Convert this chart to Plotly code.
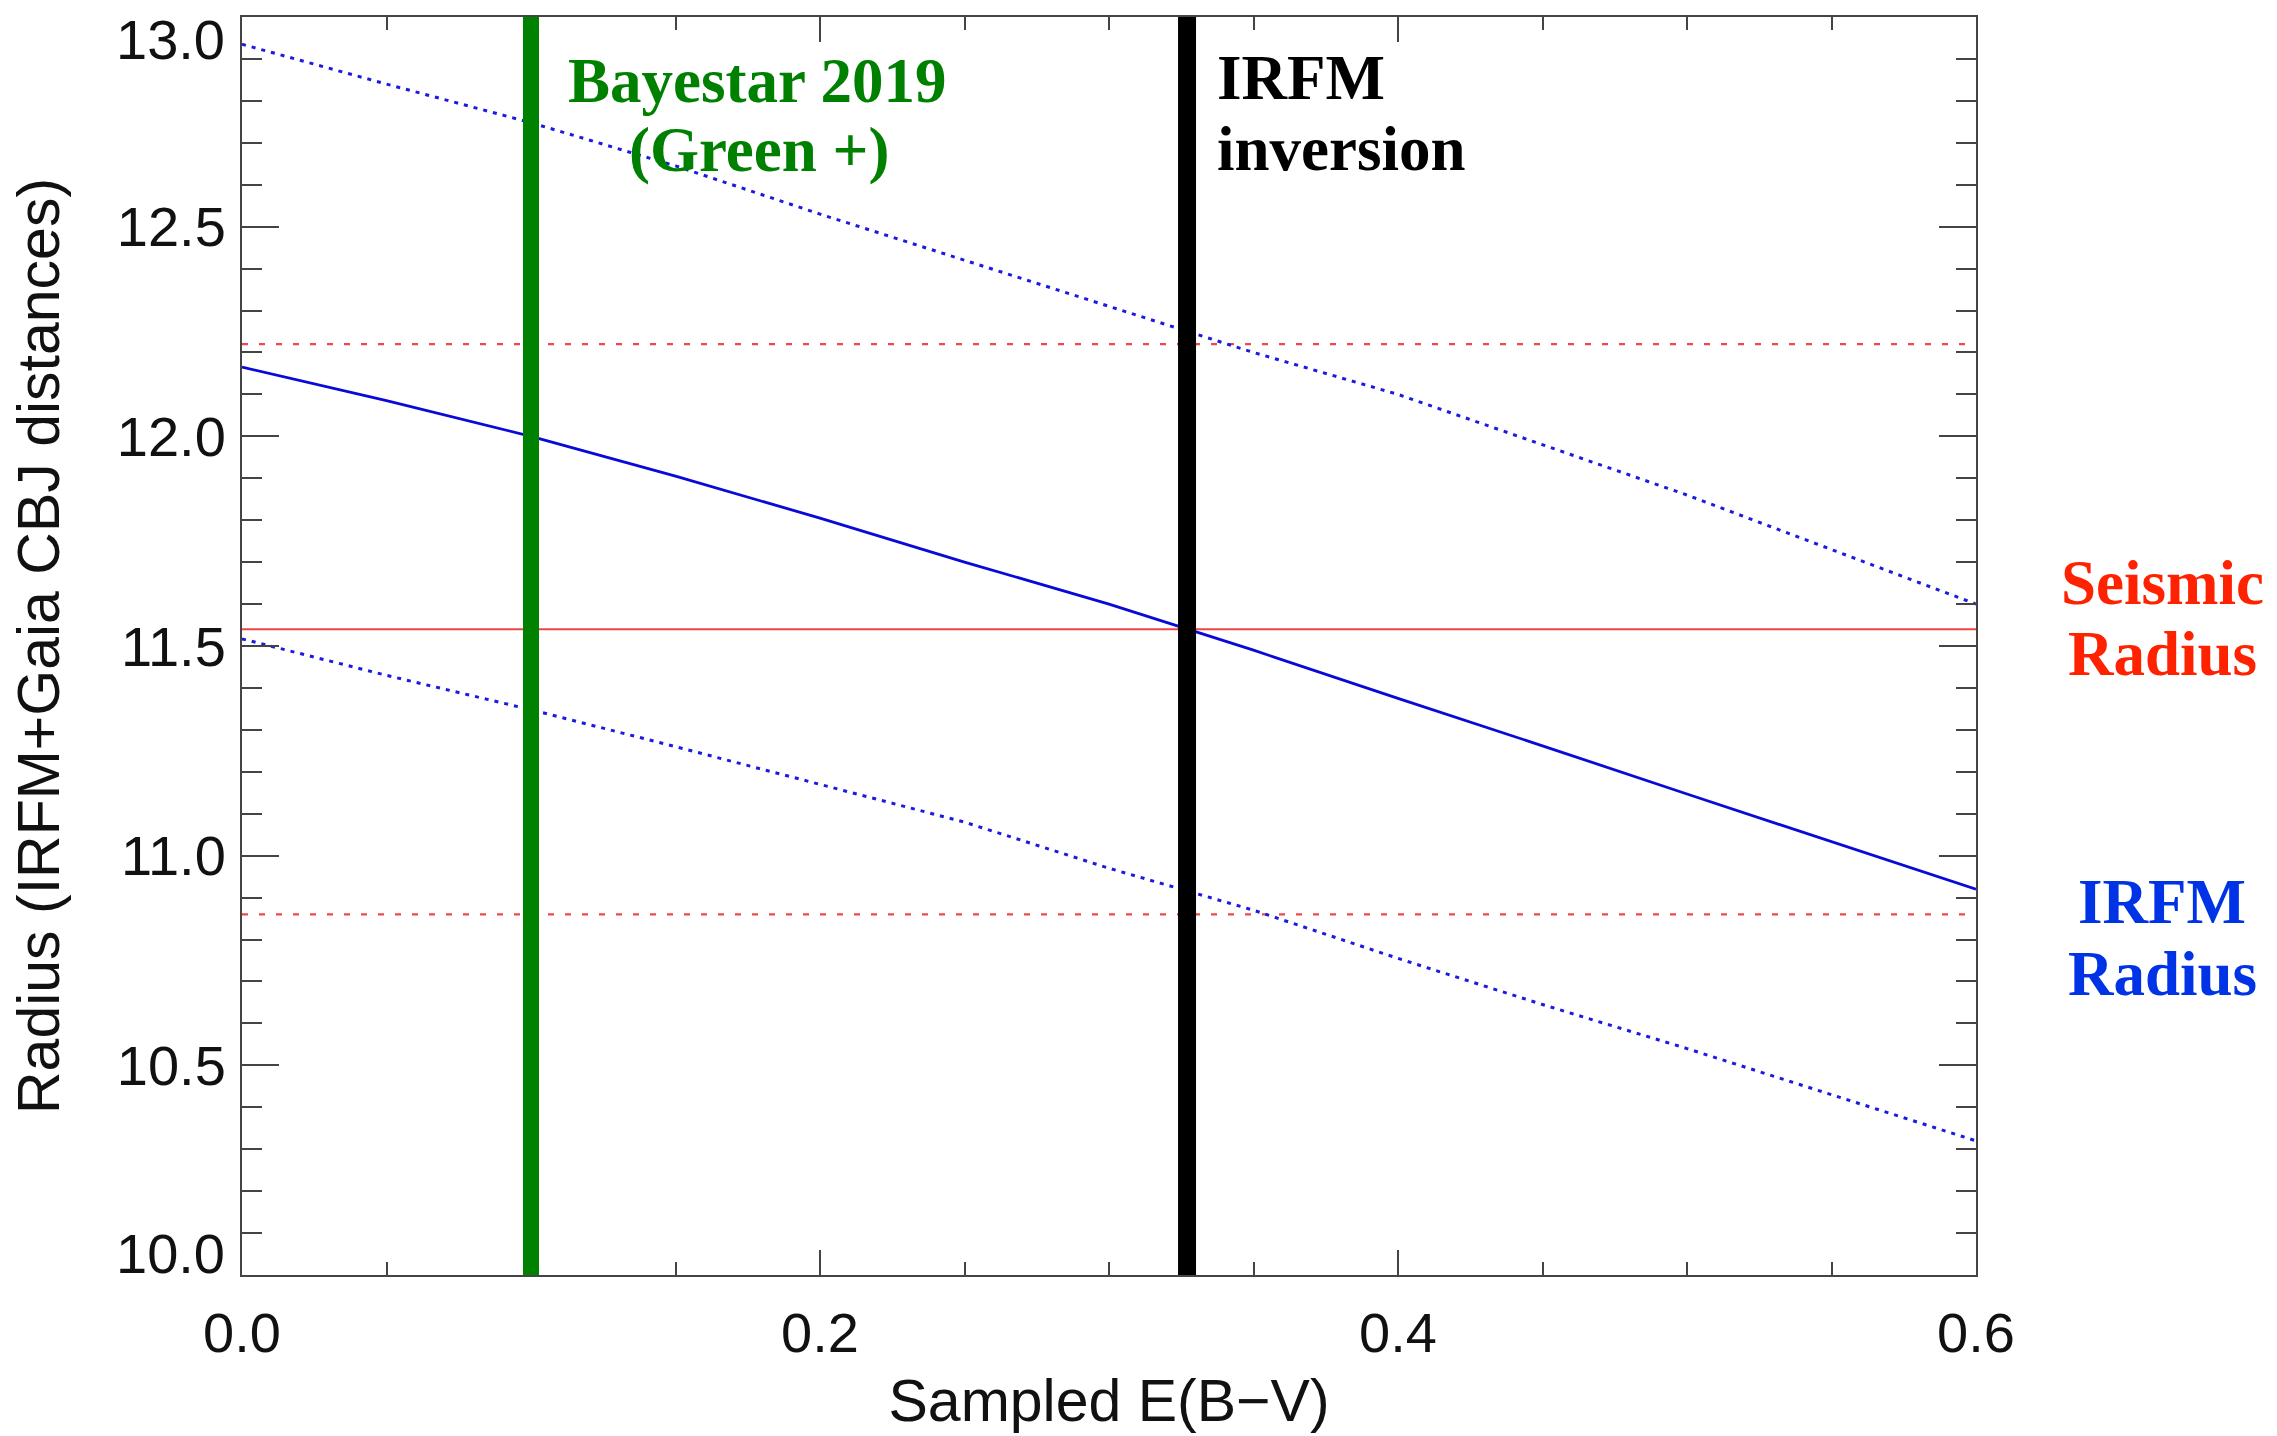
import plotly.graph_objects as go

# ---- data ----
ebv = [0.0, 0.05, 0.10, 0.15, 0.20, 0.25, 0.30, 0.35, 0.40, 0.45, 0.50, 0.55, 0.60]
radius_irfm = [12.165, 12.085, 12.00, 11.905, 11.805, 11.70, 11.60, 11.49, 11.375, 11.262, 11.147, 11.033, 10.92]
radius_upper = [12.935, 12.84, 12.748, 12.645, 12.53, 12.42, 12.31, 12.20, 12.10, 11.98, 11.86, 11.73, 11.60]
radius_lower = [11.517, 11.43, 11.348, 11.26, 11.17, 11.08, 10.97, 10.87, 10.755, 10.645, 10.54, 10.43, 10.32]

seismic_radius = 11.54
seismic_upper = 12.22
seismic_lower = 10.86

bayestar_ebv = 0.10
irfm_ebv = 0.327

x_range = [0.0, 0.6]
y_range = [10.0, 13.0]
x_ticks = [0.0, 0.2, 0.4, 0.6]
x_ticktext = ["0.0", "0.2", "0.4", "0.6"]
y_ticks = [10.0, 10.5, 11.0, 11.5, 12.0, 12.5, 13.0]
y_ticktext = ["10.0", "10.5", "11.0", "11.5", "12.0", "12.5", "13.0"]

W, H = 2277, 1436
L, R, T, B = 242, 2277 - 1976, 17, 1436 - 1275

SANS = "Liberation Sans, Arial, Helvetica, sans-serif"
SERIF = "Liberation Serif, Times New Roman, serif"
AXC = "#444444"
TICK_FS = 56

fig = go.Figure()

# red reference lines (seismic radius and its bounds)
fig.add_trace(go.Scatter(x=x_range, y=[seismic_upper, seismic_upper], mode="lines",
                         line=dict(color="#F04848", width=2.2, dash="6px,11px"), showlegend=False))
fig.add_trace(go.Scatter(x=x_range, y=[seismic_lower, seismic_lower], mode="lines",
                         line=dict(color="#F04848", width=2.2, dash="6px,11px"), showlegend=False))
fig.add_trace(go.Scatter(x=x_range, y=[seismic_radius, seismic_radius], mode="lines",
                         line=dict(color="#EE4444", width=2.2), showlegend=False))

# IRFM radius curves
fig.add_trace(go.Scatter(x=ebv, y=radius_upper, mode="lines",
                         line=dict(color="#1A1AE0", width=3, dash="4px,6px"), showlegend=False))
fig.add_trace(go.Scatter(x=ebv, y=radius_lower, mode="lines",
                         line=dict(color="#1A1AE0", width=3, dash="4px,6px"), showlegend=False))
fig.add_trace(go.Scatter(x=ebv, y=radius_irfm, mode="lines",
                         line=dict(color="#0A0AD8", width=2.8), showlegend=False))

# vertical markers
fig.add_vline(x=bayestar_ebv, line=dict(color="#008200", width=16), layer="above")
fig.add_vline(x=irfm_ebv, line=dict(color="#000000", width=18), layer="above")

def px_x(p):
    return (p - L) / (W - L - R)

def px_y(p):
    return (H - B - p) / (H - T - B)

ann = [
    ("Bayestar 2019", 757, 81, "center", "#008000"),
    ("(Green +)", 759, 150, "center", "#008000"),
    ("IRFM", 1215, 78, "left", "#000000"),
    ("inversion", 1215, 149, "left", "#000000"),
    ("Seismic", 2162, 583, "center", "#FF2200"),
    ("Radius", 2162, 654, "center", "#FF2200"),
    ("IRFM", 2162, 902, "center", "#0033E6"),
    ("Radius", 2162, 974, "center", "#0033E6"),
]
for text, ax_, ay_, xa, col in ann:
    fig.add_annotation(x=px_x(ax_), y=px_y(ay_), xref="paper", yref="paper",
                       text="<b>%s</b>" % text, showarrow=False, xanchor=xa, yanchor="middle",
                       font=dict(family=SERIF, size=63, color=col))

# end labels of the y axis are shifted inside the axis span (as in the original)
y_axis_text = [""] + y_ticktext[1:-1] + [""]
fig.add_annotation(x=0, y=y_ticks[-1], xref="paper", yref="y", text=y_ticktext[-1],
                   showarrow=False, xanchor="right", yanchor="top", xshift=-15, yshift=11,
                   font=dict(family=SANS, size=TICK_FS, color="#111111"))
fig.add_annotation(x=0, y=y_ticks[0], xref="paper", yref="y", text=y_ticktext[0],
                   showarrow=False, xanchor="right", yanchor="bottom", xshift=-15, yshift=-12,
                   font=dict(family=SANS, size=TICK_FS, color="#111111"))

axis_common = dict(showline=True, linecolor=AXC, linewidth=2, mirror="allticks",
                   ticks="inside", tickcolor=AXC, tickwidth=2, showgrid=False, zeroline=False,
                   automargin=False,
                   tickfont=dict(family=SANS, size=TICK_FS, color="#111111"))

fig.update_xaxes(range=x_range, tickvals=x_ticks, ticktext=x_ticktext, ticklen=25,
                 minor=dict(ticks="inside", dtick=0.05, ticklen=13, tickcolor=AXC, tickwidth=2),
                 ticklabelstandoff=8,
                 title=dict(text="Sampled E(B\u2212V)", font=dict(family=SANS, size=59, color="#111111"),
                            standoff=16),
                 **axis_common)
fig.update_yaxes(range=y_range, tickvals=y_ticks, ticktext=y_axis_text, ticklen=37,
                 minor=dict(ticks="inside", dtick=0.1, ticklen=20, tickcolor=AXC, tickwidth=2),
                 ticklabelstandoff=3,
                 title=dict(text="Radius (IRFM+Gaia CBJ distances)",
                            font=dict(family=SANS, size=59, color="#111111"), standoff=38),
                 **axis_common)

fig.update_layout(width=W, height=H, margin=dict(l=L, r=R, t=T, b=B, pad=0, autoexpand=False),
                  paper_bgcolor="white", plot_bgcolor="white", showlegend=False)

fig.write_html("out.html")
